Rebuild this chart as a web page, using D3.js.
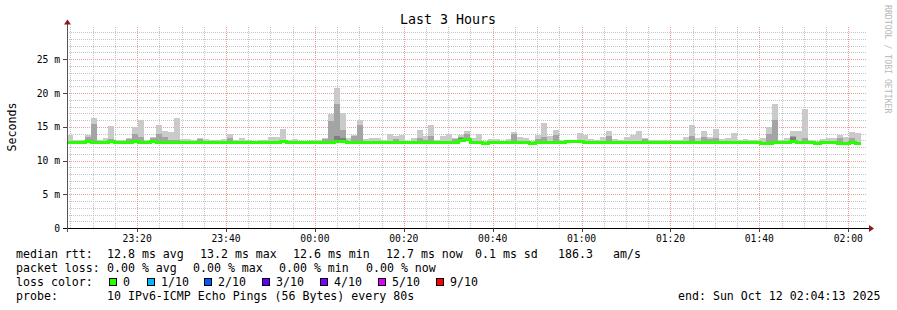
<!DOCTYPE html>
<html>
<head>
<meta charset="utf-8">
<script src="https://cdn.jsdelivr.net/npm/d3@7.9.0/dist/d3.min.js"></script>
<style>
  html, body { margin: 0; padding: 0; background: #fff; }
  svg { display: block; font-family: "DejaVu Sans Mono", monospace; }
</style>
</head>
<body>
<svg id="chart" width="897" height="310"></svg>
<script>
// ---- data (values in ms), one entry per 80 s step ----
const endTime = new Date(2025, 9, 12, 2, 4, 13);
const stepSeconds = 80;

const median = [
  12.8,12.8,12.8,12.9,12.7,12.8,12.8,12.9,12.8,12.7,
  12.8,12.9,12.8,12.7,12.9,12.8,12.7,12.8,12.7,12.8,
  12.8,12.8,12.8,12.7,12.8,12.8,12.7,12.8,12.8,12.8,
  12.7,12.8,12.8,12.8,12.8,12.8,12.9,12.8,12.8,12.8,
  12.8,12.8,12.8,12.8,12.8,12.9,12.9,12.8,12.8,12.8,
  12.7,12.8,12.8,12.8,12.8,12.8,12.8,12.8,12.8,12.8,
  12.8,12.7,12.8,12.8,12.8,12.8,13.0,13.2,12.8,12.8,
  12.6,12.7,12.7,12.7,12.7,12.7,12.7,12.7,12.6,12.8,
  12.7,12.8,12.8,12.8,12.9,12.9,12.9,12.8,12.7,12.7,
  12.7,12.8,12.7,12.7,12.7,12.8,12.8,12.8,12.7,12.7,
  12.7,12.7,12.8,12.8,12.8,12.8,12.8,12.8,12.8,12.8,
  12.8,12.8,12.8,12.7,12.7,12.7,12.7,12.6,12.6,12.8,
  12.8,12.8,12.9,12.7,12.8,12.7,12.6,12.7,12.7,12.7,
  12.6,12.6,12.7,12.6
];

// highest ping of each step (outer, lightest smoke)
const pingMax = [
  13.8,13.1,13.0,13.8,16.3,13.0,13.3,15.1,13.0,13.0,
  13.4,14.9,16.0,13.0,13.5,15.3,14.4,14.2,16.3,13.2,
  13.2,13.0,13.4,13.2,13.1,13.0,13.2,14.0,13.1,13.3,
  13.0,12.9,13.0,13.1,13.5,13.5,14.6,13.0,13.2,12.9,
  12.9,13.0,13.0,13.4,16.9,20.7,17.0,13.4,13.8,16.0,
  13.2,13.4,13.4,13.0,14.0,13.6,13.8,12.9,13.4,14.5,
  13.7,15.3,13.0,13.7,14.0,13.4,13.8,14.4,13.4,13.9,
  12.9,13.2,13.2,12.9,13.2,14.2,13.5,13.4,12.9,13.8,
  15.6,13.7,14.5,13.0,12.9,13.0,14.1,13.8,13.2,13.0,
  13.5,14.4,13.2,13.0,13.5,13.8,14.4,13.4,13.0,13.0,
  13.0,13.0,13.0,13.0,13.5,15.3,13.4,14.3,13.5,14.7,
  13.2,13.4,14.1,13.0,13.2,13.0,13.0,13.3,14.9,18.4,
  13.0,13.4,14.3,14.3,17.6,13.0,12.9,13.2,13.4,13.4,
  13.8,13.5,14.2,14.1
];

// second highest ping (medium smoke), null = not visible
const pingUpper = [
  null,null,null,13.5,15.4,null,null,13.2,null,null,
  13.2,14.0,13.5,null,13.3,13.9,13.5,13.1,13.1,null,
  null,null,13.2,null,null,null,null,13.4,null,null,
  null,null,null,null,null,null,null,null,null,null,
  null,null,null,13.2,15.9,18.4,14.5,null,13.6,15.3,
  null,null,null,null,null,13.2,null,null,null,13.4,
  13.1,13.6,null,null,null,13.2,13.5,13.9,null,null,
  null,null,null,null,null,13.9,null,null,null,13.2,
  13.5,null,13.8,null,null,null,null,null,null,null,
  null,13.6,null,null,null,null,null,13.2,null,null,
  null,null,null,null,null,13.7,null,13.5,13.2,13.4,
  null,null,null,null,null,null,null,null,14.0,16.0,
  null,null,13.7,null,13.3,null,null,null,null,null,
  13.4,null,13.3,null
];

// third highest ping (dark smoke)
const pingInner = [
  null,null,null,null,null,null,null,null,null,null,
  null,null,null,null,null,null,null,null,null,null,
  null,null,null,null,null,null,null,null,null,null,
  null,null,null,null,null,null,null,null,null,null,
  null,null,null,null,null,13.7,13.3,null,null,null,
  null,null,null,null,null,null,null,null,null,null,
  null,null,null,null,null,null,13.3,13.4,null,null,
  null,null,null,null,null,null,null,null,null,null,
  null,null,null,null,null,null,null,null,null,null,
  null,null,null,null,null,null,null,null,null,null,
  null,null,null,null,null,null,null,null,null,null,
  null,null,null,null,null,null,null,null,null,null,
  null,null,13.5,null,null,null,null,null,null,null,
  null,null,null,null
];

const yTicks = [0, 5, 10, 15, 20, 25];
const lossLabels = ["0", "1/10", "2/10", "3/10", "4/10", "5/10", "9/10"];
const lossColors = ["#26ff00", "#00b8ff", "#0059ff", "#5e00ff", "#7e00ff", "#dd00ff", "#ff0000"];
const smokeColors = ["#cacaca", "#a4a4a4", "#7e7e7e"];

const rttLegend = [
  ["median rtt:", 16], ["12.8 ms avg", 107], ["13.2 ms max", 200], ["12.6 ms min", 293],
  ["12.7 ms now", 386], ["0.1 ms sd", 475], ["186.3", 558], ["am/s", 613]
];
const lossLegend = [
  ["packet loss:", 16], ["0.00 % avg", 107], ["0.00 % max", 193], ["0.00 % min", 279], ["0.00 % now", 366]
];
const lossColorX = [109, 147, 204, 262, 320, 378, 436];

// ---- layout ----
const svg = d3.select("#chart");
const plotLeft = 67, plotRight = 867, plotBottom = 228, plotTop = 25.5;
const startTime = new Date(+endTime - 3 * 3600 * 1000);

const x = d3.scaleTime().domain([startTime, endTime]).range([plotLeft, plotRight]);
const y = d3.scaleLinear().domain([0, 30]).range([plotBottom, plotTop]);

const stepTime = i => new Date(+startTime + i * stepSeconds * 1000);

// grid
const grid = svg.append("g").attr("shape-rendering", "crispEdges");
const minorY = d3.range(1, 30, 1).filter(v => v % 5 !== 0);
const majorY = d3.range(5, 30, 5);
const minorX = d3.timeMinute.every(5).range(startTime, endTime).filter(t => t.getMinutes() % 20 !== 0);
const majorX = d3.timeMinute.every(20).range(startTime, endTime);

grid.selectAll(".gy").data(minorY).join("line")
  .attr("x1", plotLeft).attr("x2", plotRight)
  .attr("y1", d => Math.round(y(d)) + 0.5).attr("y2", d => Math.round(y(d)) + 0.5)
  .attr("stroke", "#c4c4c4").attr("stroke-dasharray", "1,1");
grid.selectAll(".gx").data(minorX).join("line")
  .attr("x1", d => Math.round(x(d)) + 0.5).attr("x2", d => Math.round(x(d)) + 0.5)
  .attr("y1", plotBottom).attr("y2", plotTop)
  .attr("stroke", "#c4c4c4").attr("stroke-dasharray", "1,1");
grid.selectAll(".my").data(majorY).join("line")
  .attr("x1", plotLeft).attr("x2", plotRight)
  .attr("y1", d => Math.round(y(d)) + 0.5).attr("y2", d => Math.round(y(d)) + 0.5)
  .attr("stroke", "#f09a9a").attr("stroke-dasharray", "1,1");
grid.selectAll(".mx").data(majorX).join("line")
  .attr("x1", d => Math.round(x(d)) + 0.5).attr("x2", d => Math.round(x(d)) + 0.5)
  .attr("y1", plotBottom).attr("y2", plotTop)
  .attr("stroke", "#f09a9a").attr("stroke-dasharray", "1,1");

// smoke
const smoke = svg.append("g").attr("shape-rendering", "crispEdges");
[pingMax, pingUpper, pingInner].forEach((series, k) => {
  smoke.selectAll(".s" + k).data(series.map((v, i) => ({ v, i })).filter(d => d.v !== null))
    .join("rect")
    .attr("class", "s" + k)
    .attr("x", d => Math.round(x(stepTime(d.i))))
    .attr("width", d => Math.round(x(stepTime(d.i + 1))) - Math.round(x(stepTime(d.i))))
    .attr("y", d => Math.round(y(d.v)))
    .attr("height", d => Math.max(0, Math.round(y(median[d.i])) - Math.round(y(d.v))))
    .attr("fill", smokeColors[k]);
});

// median line (crisp staircase)
const pts = median.map((v, i) => [stepTime(i), v]);
pts.push([stepTime(median.length), median[median.length - 1]]);
svg.append("path")
  .attr("d", d3.line()
    .x(d => Math.round(x(d[0])))
    .y(d => Math.round(y(d[1])) + 0.5)
    .curve(d3.curveStepAfter)(pts))
  .attr("fill", "none")
  .attr("stroke", lossColors[0])
  .attr("stroke-width", 3)
  .attr("shape-rendering", "crispEdges");

// axes
const ax = svg.append("g").attr("shape-rendering", "crispEdges");
ax.append("line").attr("x1", plotLeft - 4).attr("x2", plotRight + 2).attr("y1", plotBottom + 0.5).attr("y2", plotBottom + 0.5).attr("stroke", "#000");
ax.append("line").attr("x1", plotLeft + 0.5).attr("x2", plotLeft + 0.5).attr("y1", plotBottom + 4).attr("y2", plotTop - 2).attr("stroke", "#555");
ax.selectAll(".ty").data(majorY).join("line")
  .attr("x1", plotLeft - 4).attr("x2", plotLeft)
  .attr("y1", d => Math.round(y(d)) + 0.5).attr("y2", d => Math.round(y(d)) + 0.5)
  .attr("stroke", "#444");
ax.selectAll(".tx").data(majorX).join("line")
  .attr("x1", d => Math.round(x(d)) + 0.5).attr("x2", d => Math.round(x(d)) + 0.5)
  .attr("y1", plotBottom).attr("y2", plotBottom + 4)
  .attr("stroke", "#444");

// arrows
svg.append("path").attr("d", `M${plotLeft - 3},${plotTop - 1}L${plotLeft + 0.5},${plotTop - 6}L${plotLeft + 4},${plotTop - 1}Z`).attr("fill", "#8b1a1a");
svg.append("path").attr("d", `M${plotRight + 2},${plotBottom - 3}L${plotRight + 7},${plotBottom + 0.5}L${plotRight + 2},${plotBottom + 4}Z`).attr("fill", "#8b1a1a");

// tick labels
svg.append("g").selectAll("text").data(yTicks).join("text")
  .attr("x", 60).attr("y", d => y(d) + 3.5)
  .attr("text-anchor", "end").attr("font-size", "9.7px")
  .text(d => d === 0 ? "0" : d + " m");
svg.append("g").selectAll("text").data(majorX).join("text")
  .attr("x", d => x(d)).attr("y", 241.5)
  .attr("text-anchor", "middle").attr("font-size", "9.7px")
  .text(d3.timeFormat("%H:%M"));

// titles
svg.append("text").attr("x", 448).attr("y", 24).attr("text-anchor", "middle")
  .attr("font-size", "13.3px").text("Last 3 Hours");
svg.append("text").attr("transform", "translate(16,127) rotate(-90)").attr("text-anchor", "middle")
  .attr("font-size", "11.6px").text("Seconds");
svg.append("text").attr("transform", "translate(885,5) rotate(90)")
  .attr("font-size", "8.2px").attr("fill", "#b8b8b8").text("RRDTOOL / TOBI OETIKER");

// legend
const leg = svg.append("g").attr("font-size", "11.6px");
leg.selectAll(".r").data(rttLegend).join("text").attr("class", "r").attr("x", d => d[1]).attr("y", 258).text(d => d[0]);
leg.selectAll(".l").data(lossLegend).join("text").attr("class", "l").attr("x", d => d[1]).attr("y", 272).text(d => d[0]);
leg.append("text").attr("x", 16).attr("y", 286).text("loss color:");
leg.selectAll(".b").data(lossColors).join("rect").attr("class", "b")
  .attr("x", (d, i) => lossColorX[i] + 0.5).attr("y", 278.5).attr("width", 7).attr("height", 7)
  .attr("fill", d => d).attr("stroke", "#000").attr("shape-rendering", "crispEdges");
leg.selectAll(".bl").data(lossLabels).join("text").attr("class", "bl")
  .attr("x", (d, i) => lossColorX[i] + 14).attr("y", 286).text(d => d);
leg.append("text").attr("x", 16).attr("y", 300).text("probe:");
leg.append("text").attr("x", 107).attr("y", 300).text("10 IPv6-ICMP Echo Pings (56 Bytes) every 80s");
leg.append("text").attr("x", 678).attr("y", 300).text("end: Sun Oct 12 02:04:13 2025");
</script>
</body>
</html>
